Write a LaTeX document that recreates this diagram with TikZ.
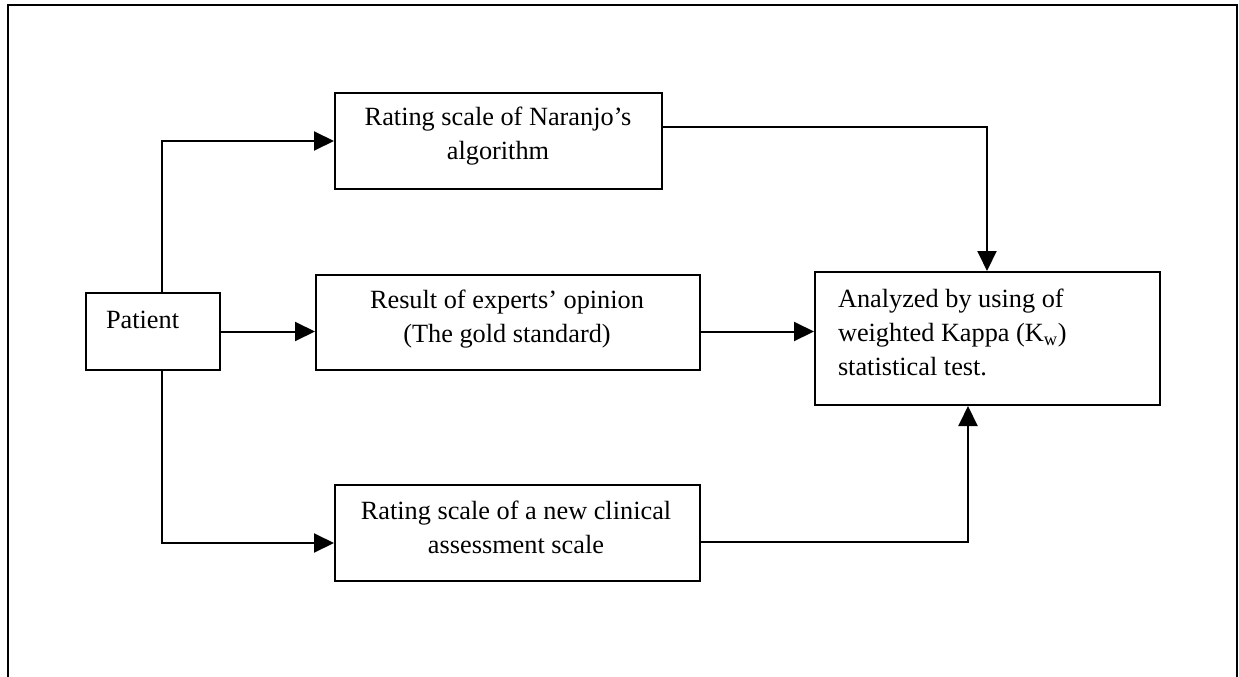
\documentclass[tikz,border=0pt]{standalone}
\usepackage{fontspec}
\setmainfont{Liberation Serif}
\usetikzlibrary{arrows.meta}

\begin{document}
\begin{tikzpicture}[x=1pt, y=-1pt,
  line width=2pt,
  box/.style={draw, rectangle, inner sep=0pt, anchor=north west},
  txt/.style={inner sep=0pt, font=\fontsize{26.3}{34}\selectfont},
  arr/.style={-{Triangle[length=20pt, width=19pt]}},
  frame/.style={draw, line width=2pt}]

\useasboundingbox (0,0) rectangle (1239,677);

% outer frame, open at the bottom
\draw[frame] (8,677) -- (8,5) -- (1237,5) -- (1237,677);

% boxes
\node[box, minimum width=134pt, minimum height=77pt]  (pat) at (85,292)  {};
\node[box, minimum width=327pt, minimum height=96pt]  (nar) at (334,92)  {};
\node[box, minimum width=384pt, minimum height=95pt]  (exp) at (315,274) {};
\node[box, minimum width=365pt, minimum height=96pt]  (new) at (334,484) {};
\node[box, minimum width=345pt, minimum height=133pt] (ana) at (814,271) {};

% box texts
\node[txt, anchor=base west] (pat-t) at (105,328) {Patient};
\node[txt, align=center] (nar-t) at (498,136) {Rating scale of Naranjo’s\\algorithm};
\node[txt, align=center] (exp-t) at (507,319) {Result of experts’ opinion\\(The gold standard)};
\node[txt, align=center] (new-t) at (516,527) {Rating scale of a new clinical\\assessment scale};
\node[txt, align=left, anchor=north west] (ana-t) at (837,288)
  {Analyzed by using of\\weighted Kappa (K\textsubscript{w})\\statistical test.};

% connectors
\draw[arr] ([xshift=77pt]pat.north west) |- (nar.west);
\draw[arr] (pat.east) -- (pat.east -| exp.west);
\draw[arr] ([xshift=77pt]pat.south west) |- ([yshift=-10pt]new.west);
\draw[arr] (exp.east |- pat.east) -- (ana.west |- pat.east);
\draw[arr] ([yshift=14pt]nar.east) -| ([xshift=173pt]ana.north west);
\draw[arr] ([yshift=-9pt]new.east) -| ([xshift=154pt]ana.south west);

\end{tikzpicture}
\end{document}
